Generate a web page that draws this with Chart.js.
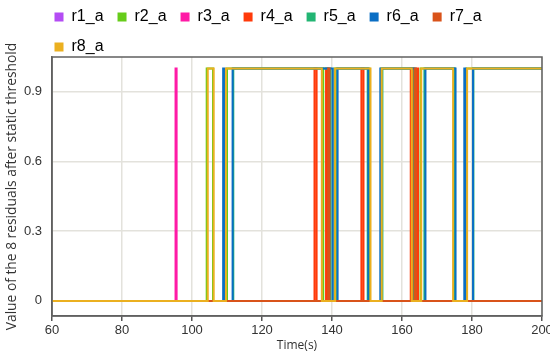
<!DOCTYPE html>
<html>
<head>
<meta charset="utf-8">
<script src="https://cdn.jsdelivr.net/npm/chart.js@4/dist/chart.umd.min.js"></script>
<style>
  html, body { margin: 0; padding: 0; background: #ffffff; }
  #wrap { width: 550px; height: 357px; }
</style>
</head>
<body>
<div id="wrap"><canvas id="c" width="550" height="357"></canvas></div>
<script>
// ---- data (change points of each step signal: time, new value) ----
const seriesNames = ['r1_a', 'r2_a', 'r3_a', 'r4_a', 'r5_a', 'r6_a', 'r7_a', 'r8_a'];
const seriesColors = ['#b44cf4', '#66cc1a', '#ff1aa6', '#ff3a0a', '#22b573', '#0a6ec4', '#d9531a', '#ebb020'];

const r1Times = [60, 200];
const r1Values = [0, 0];

const r2Times = [60, 104.2, 106.0, 110.0, 137.5, 140.7, 150.7, 154.0, 163.1, 165.3, 174.9, 178.4, 200];
const r2Values = [0, 1, 0, 1, 0, 1, 0, 1, 0, 1, 0, 1, 1];

const r3Times = [60, 95.3, 95.6, 200];
const r3Values = [0, 1, 0, 0];

const r4Times = [60, 135.0, 135.6, 138.3, 138.8, 148.4, 149.0, 162.5, 163.0, 164.2, 164.6, 200];
const r4Values = [0, 1, 0, 1, 0, 1, 0, 1, 0, 1, 0, 0];

const r5Times = [60, 111.8, 139.6, 141.3, 150.2, 154.4, 163.5, 166.4, 175.1, 180.4, 200];
const r5Values = [0, 1, 0, 1, 0, 1, 0, 1, 0, 1, 1];

const r6Times = [60, 108.9, 109.3, 111.6, 140.2, 141.6, 150.4, 153.8, 163.7, 166.7, 175.3, 177.8, 178.2, 180.3, 200];
const r6Values = [0, 1, 0, 1, 0, 1, 0, 1, 0, 1, 0, 1, 0, 1, 1];

const r7Times = [60, 138.9, 139.3, 163.6, 164.0, 200];
const r7Values = [0, 1, 0, 1, 0, 0];

const r8Times = [60, 104.5, 106.2, 109.7, 137.1, 140.9, 151.0, 154.2, 162.8, 165.5, 174.6, 178.6, 200];
const r8Values = [0, 1, 0, 1, 0, 1, 0, 1, 0, 1, 0, 1, 1];

const xTickValues = [60, 80, 100, 120, 140, 160, 180, 200];
const yTickValues = [0, 0.3, 0.6, 0.9];

const allTimes = [r1Times, r2Times, r3Times, r4Times, r5Times, r6Times, r7Times, r8Times];
const allValues = [r1Values, r2Values, r3Values, r4Values, r5Values, r6Values, r7Values, r8Values];

const datasets = seriesNames.map((name, i) => ({
  label: name,
  data: allTimes[i].map((t, k) => ({ x: t, y: allValues[i][k] })),
  borderColor: seriesColors[i],
  backgroundColor: seriesColors[i],
  borderWidth: 2,
  pointRadius: 0,
  stepped: 'before',
  tension: 0,
  fill: false,
  order: seriesNames.length - i
}));

const frame = {
  id: 'frame',
  beforeLayout(chart) {
    const lg = chart.legend;
    if (lg && !lg._trimmed) {
      const f = lg.fit.bind(lg);
      lg.fit = function () { f(); this.height -= 13; };
      lg._trimmed = true;
    }
  },
  afterLayout(chart) {
    const lg = chart.legend;
    if (lg) { lg.left -= 11.5; lg.top -= 5; }
  },
  afterDraw(chart) {
    const a = chart.chartArea, ctx = chart.ctx;
    ctx.save();
    ctx.strokeStyle = '#606060';
    ctx.lineWidth = 1.5;
    ctx.strokeRect(a.left, a.top, a.right - a.left, a.bottom - a.top);
    ctx.restore();
  }
};

const baseFont = "'Liberation Sans', Arial, sans-serif";
const titleFont = "'Open Sans', 'Liberation Sans', sans-serif";

new Chart(document.getElementById('c'), {
  type: 'line',
  data: { datasets },
  plugins: [frame],
  options: {
    responsive: false,
    animation: false,
    layout: { padding: { left: 0, right: 8, top: 0, bottom: 0 } },
    plugins: {
      tooltip: { enabled: false },
      legend: {
        display: true,
        position: 'top',
        align: 'start',
        fullSize: false,
        labels: {
          boxWidth: 9,
          boxHeight: 9,
          padding: 14,
          color: '#333',
          font: { family: baseFont, size: 16 },
          sort: (a, b) => a.datasetIndex - b.datasetIndex,
          generateLabels(chart) {
            return chart.data.datasets.map((ds, i) => ({
              text: ds.label,
              fillStyle: ds.borderColor,
              strokeStyle: ds.borderColor,
              lineWidth: 0,
              hidden: false,
              datasetIndex: i
            }));
          }
        }
      }
    },
    scales: {
      x: {
        type: 'linear',
        min: 60,
        max: 200,
        afterBuildTicks(scale) { scale.ticks = xTickValues.map(v => ({ value: v })); },
        afterFit(scale) { scale.paddingRight = 0; scale.paddingLeft = 0; },
        ticks: { color: '#333', font: { family: baseFont, size: 13 }, padding: 2, maxRotation: 0 },
        grid: { color: '#e3e2dc', lineWidth: 1.5, tickColor: '#555', tickLength: 5, drawTicks: true },
        border: { color: '#606060', width: 1.5 },
        title: { display: true, text: 'Time(s)', color: '#333', font: { family: titleFont, size: 12 }, padding: { top: -2, bottom: 4 } }
      },
      y: {
        type: 'linear',
        min: -0.065,
        max: 1.05,
        afterBuildTicks(scale) { scale.ticks = yTickValues.map(v => ({ value: v })); },
        afterFit(scale) { scale.width = 52; },
        ticks: { color: '#333', font: { family: baseFont, size: 13 }, padding: 10, callback: v => String(v) },
        grid: { color: '#e3e2dc', lineWidth: 1.5, drawTicks: false },
        border: { color: '#606060', width: 1.5 },
        title: { display: true, text: 'Value of the 8 residuals after static threshold', color: '#333', font: { family: titleFont, size: 13.8 }, padding: { top: 4, bottom: 0 } }
      }
    }
  }
});
</script>
</body>
</html>
